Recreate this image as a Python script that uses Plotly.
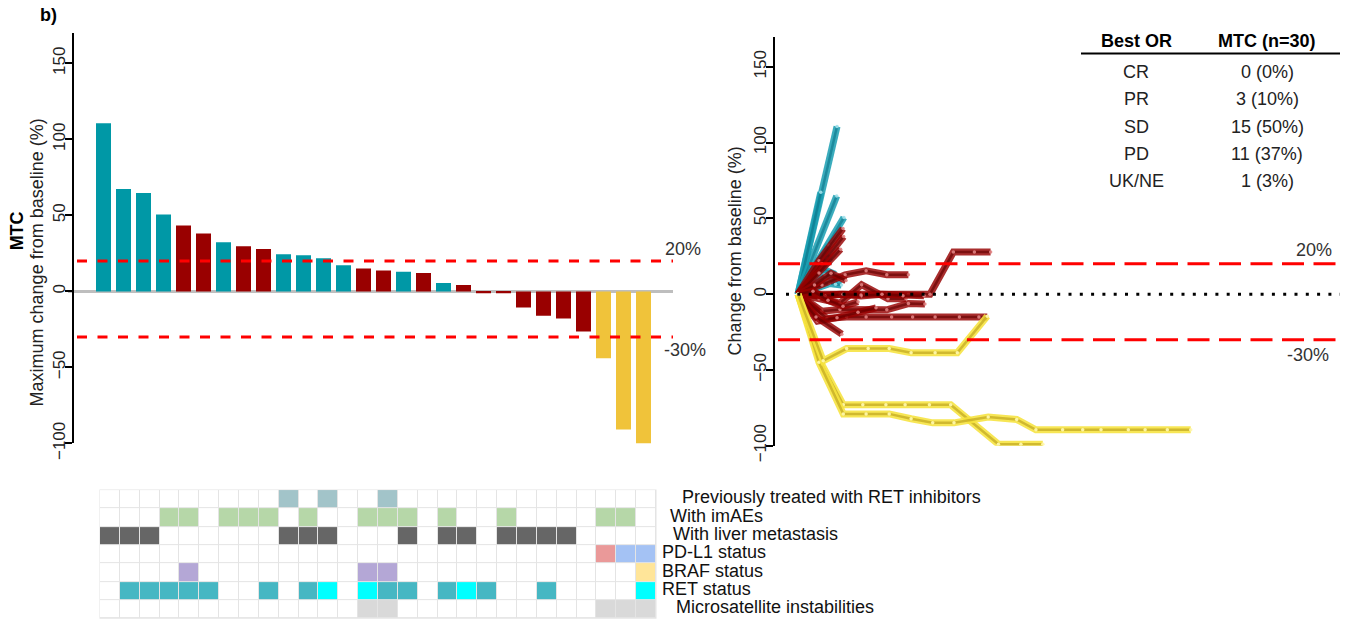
import plotly.graph_objects as go

W, H = 1350, 623          # drawing coordinates in page pixels
FIG_H = 641               # figure height (plot area ends up H tall)
FONT = "Liberation Sans, Arial, sans-serif"

# ---------------- waterfall: best % change per patient ----------------
best_change = [110.6, 67.3, 64.8, 50.6, 43.3, 38.0, 32.3, 29.7, 27.9, 24.4,
               23.7, 21.8, 17.2, 15.1, 13.8, 12.9, 12.1, 5.5, 4.2, -1.2,
               -1.2, -10.6, -16.0, -17.8, -26.4, -44.0, -90.8, -100.0]
best_response = ["PD", "PD", "PD", "PD", "SD", "SD", "PD", "SD", "SD", "PD",
                 "PD", "PD", "PD", "SD", "SD", "PD", "SD", "PD", "SD", "SD",
                 "SD", "SD", "SD", "SD", "SD", "PR", "PR", "PR"]
bar_colors = {"PD": "#0098A6", "SD": "#990000", "PR": "#F0C33A"}

# ---------------- spider: change over time (weeks) ----------------
spider_pd = [
    ([0, 13.0], [0, 110.6]),
    ([0, 7.6], [0, 67.3]),
    ([0, 12.9], [0, 64.8]),
    ([0, 7.5, 15.3], [0, 24, 50.6]),
    ([0, 10.3], [0, 32.3]),
    ([0, 6, 11], [0, 18, 24.4]),
    ([0, 9.5], [0, 23.7]),
    ([0, 5.5, 10.8], [0, 15, 21.8]),
    ([0, 7.5, 12.5], [0, 17.2, 13]),
    ([0, 9, 13.5], [0, 12.9, 9]),
    ([0, 8.5, 10.5, 12.5, 14.5], [0, 6.5, 7, 6.5, 6]),
]
spider_sd = [
    ([0, 7, 15], [0, 22, 43.3]),
    ([0, 8, 15.2], [0, 20, 38.0]),
    ([0, 7, 14.2], [0, 14, 29.7]),
    ([0, 7.3, 15.1, 22.9, 29.6, 36.8, 44, 51.8, 58.8, 64.2],
     [0, 0, 0, 0, 0, 0, 0, 27.8, 27.8, 27.8]),
    ([0, 8, 15.7, 22.7, 29.6, 36.8], [0, 6, 12.8, 15.4, 12.8, 12.8]),
    ([0, 5.5, 11, 16], [0, 6, 13.8, 9]),
    ([0, 7, 14, 21.2, 30, 36], [0, -3, -6, 6.3, -3, -3]),
    ([0, 7, 14, 21, 28, 35, 42], [0, -1, 0, -1.2, 0, -1, -1]),
    ([0, 4, 9, 15, 21], [0, 1, -1.2, 0, -0.5]),
    ([0, 7.9, 14, 29.6, 36.8, 42.3], [0, -11.2, -10.1, -10.3, -6.2, -6.4]),
    ([0, 9.6, 16.2, 22.7, 31.2, 38.2, 45.7, 53.8, 60.3, 63.1],
     [0, -16, -15, -15, -15, -15, -15, -15, -15, -15]),
    ([0, 6.5, 13, 20, 26], [0, -17.8, -15.5, -12, -9]),
    ([0, 6, 14.6], [0, -15, -26.4]),
    ([0, 5, 10, 15, 20], [0, 2, -4, -8, -5]),
]
spider_pr = [
    ([0, 7.3, 15.1, 21.6, 29.3, 35.7, 43.8, 50.9, 66.8, 74.3, 81.6],
     [0, -44, -73, -73, -73, -73, -73, -73, -99, -99, -99]),
    ([0, 7, 15.1, 22.7, 30.4, 37.7, 44.9, 52, 63.4, 72.9, 79.3, 88.2, 94.9,
      101, 110.1, 115.7, 123.1, 130.9],
     [0, -45, -79, -79, -79, -82.2, -84.9, -84.9, -81.1, -82.7, -89.5, -89.5,
      -89.5, -89.5, -89.5, -89.5, -89.5, -89.5]),
    ([0, 8.4, 16.2, 23.4, 30.4, 37.7, 45.7, 53.1, 63.1],
     [0, -44, -35.9, -35.9, -35.9, -38.6, -38.6, -38.6, -14.5]),
]

# ---------------- response summary table ----------------
best_or = ["CR", "PR", "SD", "PD", "UK/NE"]
or_counts = [0, 3, 15, 11, 1]
n_total = 30

# ---------------- annotation track (patient x feature) ----------------
track_labels = ["Previously treated with RET inhibitors", "With imAEs",
                "With liver metastasis", "PD-L1 status", "BRAF status",
                "RET status", "Microsatellite instabilities"]
n_patients = 28
prior_ret_cols = [9, 11, 14]
imae_cols = [3, 4, 6, 7, 8, 10, 13, 14, 15, 17, 20, 25, 26]
liver_cols = [0, 1, 2, 9, 10, 11, 15, 17, 18, 20, 21, 22, 23]
pdl1_pos_cols = [25]
pdl1_neg_cols = [26, 27]
braf_a_cols = [4, 13, 14]
braf_b_cols = [27]
ret_a_cols = [1, 2, 3, 4, 5, 8, 10, 14, 15, 17, 19, 22]
ret_b_cols = [11, 13, 18, 27]
msi_cols = [13, 14, 25, 26, 27]

track_colors = ["#FFFFFF", "#A2C4C9", "#B6D7A8", "#666666", "#EA9999",
                "#A4C2F4", "#B4A7D6", "#FFE599", "#46B7C3", "#00FFFF",
                "#D9D9D9"]

z = [[0] * n_patients for _ in track_labels]
for row, cols, code in [(0, prior_ret_cols, 1), (1, imae_cols, 2),
                        (2, liver_cols, 3), (3, pdl1_pos_cols, 4),
                        (3, pdl1_neg_cols, 5), (4, braf_a_cols, 6),
                        (4, braf_b_cols, 7), (5, ret_a_cols, 8),
                        (5, ret_b_cols, 9), (6, msi_cols, 10)]:
    for c in cols:
        z[row][c] = code

nc = len(track_colors)
colorscale = []
for k, col in enumerate(track_colors):
    colorscale.append([k / nc, col])
    colorscale.append([(k + 1) / nc, col])


def px_x(p):
    return p / W


def px_y(p):
    return 1 - p / H


fig = go.Figure()

# waterfall bars
fig.add_trace(go.Bar(
    x=list(range(len(best_change))), y=best_change,
    marker=dict(color=[bar_colors[r] for r in best_response], line=dict(width=0)),
    width=0.75, xaxis="x", yaxis="y", showlegend=False, hoverinfo="skip"))

# spider lines: wide translucent stroke, darker core, small light point markers
styles = {
    "PD": ("rgba(25,158,178,0.85)", "rgba(10,115,135,0.6)", "rgba(160,225,235,0.9)"),
    "SD": ("rgba(150,0,0,0.82)", "rgba(100,0,0,0.65)", "rgba(225,130,130,0.9)"),
    "PR": ("rgba(246,226,62,0.88)", "rgba(195,170,35,0.75)", "rgba(255,248,170,0.95)"),
}
for key, series in [("PD", spider_pd), ("SD", spider_sd), ("PR", spider_pr)]:
    outer, inner, dot = styles[key]
    for t, v in series:
        fig.add_trace(go.Scatter(x=t, y=v, mode="lines", xaxis="x2", yaxis="y2",
                                 line=dict(color=outer, width=7),
                                 showlegend=False, hoverinfo="skip"))
        fig.add_trace(go.Scatter(x=t, y=v, mode="lines+markers", xaxis="x2", yaxis="y2",
                                 line=dict(color=inner, width=2.5),
                                 marker=dict(size=3.5, color=dot),
                                 showlegend=False, hoverinfo="skip"))

# annotation track
fig.add_trace(go.Heatmap(
    z=z, x=list(range(n_patients)), y=list(range(len(track_labels))),
    zmin=-0.5, zmax=nc - 0.5, colorscale=colorscale, showscale=False,
    xgap=1, ygap=1, xaxis="x3", yaxis="y3", hoverinfo="skip"))

axis_common = dict(showline=True, linecolor="black", linewidth=2, ticks="outside",
                   ticklen=7, tickwidth=2, tickcolor="black", showgrid=False,
                   zeroline=False, tickangle=-90, range=[-100, 170],
                   tickvals=[-100, -50, 0, 50, 100, 150], ticklabelstandoff=-7,
                   tickfont=dict(family=FONT, size=17, color="#222222"))

fig.update_layout(
    width=W, height=FIG_H, margin=dict(l=0, r=0, t=0, b=0),
    paper_bgcolor="white", plot_bgcolor="white",
    font=dict(family=FONT, color="#222222"),
    xaxis=dict(domain=[px_x(74), px_x(673)], range=[-1.475, 28.475], visible=False),
    yaxis=dict(domain=[px_y(442.7), px_y(32.9)], anchor="x", **axis_common),
    xaxis2=dict(domain=[px_x(775), px_x(1345)], range=[-7.667, 182.33], visible=False),
    yaxis2=dict(domain=[px_y(445), px_y(36.5)], anchor="x2", **axis_common),
    xaxis3=dict(domain=[px_x(100), px_x(656)], range=[-0.5, 27.5], visible=False),
    yaxis3=dict(domain=[px_y(617.3), px_y(489.3)], range=[6.5, -0.5],
                visible=False, anchor="x3"),
)

shapes = [
    # grid behind the annotation track
    dict(type="rect", xref="paper", yref="paper", x0=px_x(99.5), x1=px_x(656.5),
         y0=px_y(617.8), y1=px_y(488.8), fillcolor="#E4E4E4",
         line=dict(width=0), layer="below"),
    # waterfall reference lines
    dict(type="line", xref="paper", yref="y", x0=px_x(68), x1=px_x(673), y0=0, y1=0,
         line=dict(color="#BEBEBE", width=3), layer="below"),
    dict(type="line", xref="paper", yref="y", x0=px_x(77), x1=px_x(673), y0=20, y1=20,
         line=dict(color="#FF0000", width=3, dash="10px,10.5px"), layer="above"),
    dict(type="line", xref="paper", yref="y", x0=px_x(77), x1=px_x(673), y0=-30, y1=-30,
         line=dict(color="#FF0000", width=3, dash="10px,10.5px"), layer="above"),
    # spider reference lines
    dict(type="line", xref="paper", yref="y2", x0=px_x(778), x1=px_x(1342), y0=20, y1=20,
         line=dict(color="#FF0000", width=3, dash="22px,9.5px"), layer="above"),
    dict(type="line", xref="paper", yref="y2", x0=px_x(778), x1=px_x(1342), y0=-30, y1=-30,
         line=dict(color="#FF0000", width=3, dash="22px,9.5px"), layer="above"),
    dict(type="line", xref="paper", yref="y2", x0=px_x(786), x1=px_x(1340), y0=0, y1=0,
         line=dict(color="black", width=3, dash="3px,8.3px"), layer="above"),
    # table rule
    dict(type="line", xref="paper", yref="paper", x0=px_x(1081), x1=px_x(1340),
         y0=px_y(53.5), y1=px_y(53.5), line=dict(color="black", width=2)),
]
fig.update_layout(shapes=shapes)

ann = []


def text(x, y, s, size=18, bold=False, angle=0, color="#222222", xanchor="center"):
    ann.append(dict(x=px_x(x), y=px_y(y), xref="paper", yref="paper",
                    text="<b>" + s + "</b>" if bold else s,
                    showarrow=False, textangle=angle, xanchor=xanchor, yanchor="middle",
                    font=dict(family=FONT, size=size, color=color)))


text(48, 15, "b)", size=18, bold=True, color="black")
text(17, 231, "MTC", size=18, bold=True, angle=-90, color="black")
text(37, 262, "Maximum change from baseline (%)", size=18, angle=-90)
text(735, 250, "Change from baseline (%)", size=18, angle=-90)
text(683, 249, "20%", size=18, color="#333333")
text(685, 349, "-30%", size=18, color="#333333")
text(1314, 250, "20%", size=18, color="#333333")
text(1308, 354, "-30%", size=18, color="#333333")

# table
text(1136, 41, "Best OR", size=18, bold=True, color="black")
text(1267, 41, "MTC (n=%d)" % n_total, size=18, bold=True, color="black")
for i, (lab, n) in enumerate(zip(best_or, or_counts)):
    y = 72 + 27.2 * i
    text(1136, y, lab, size=18)
    text(1267, y, "%d (%d%%)" % (n, round(100 * n / n_total)), size=18)

# track labels
label_x = [680, 668, 671, 660, 660, 660, 674]
for i, lab in enumerate(track_labels):
    ann.append(dict(x=px_x(label_x[i]), y=i, xref="paper", yref="y3", text=lab,
                    showarrow=False, xanchor="left", yanchor="middle", yshift=2,
                    font=dict(family=FONT, size=18, color="#111111")))

fig.update_layout(annotations=ann)
fig.write_html("out.html")
